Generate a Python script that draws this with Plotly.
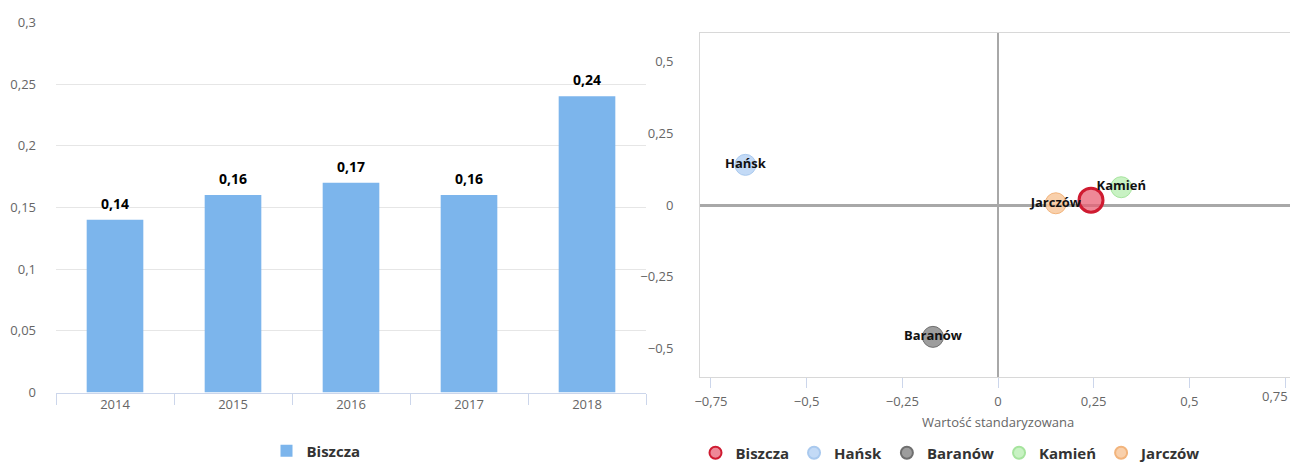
import plotly.graph_objects as go

# ---- data: left bar chart ----
years = ["2014", "2015", "2016", "2017", "2018"]
values = [0.14, 0.16, 0.17, 0.16, 0.24]
bar_series = "Biszcza"
bar_yticks = [0, 0.05, 0.1, 0.15, 0.2, 0.25, 0.3]
bar_yticktext = ["0", "0,05", "0,1", "0,15", "0,2", "0,25", "0,3"]

# ---- data: right bubble chart ----
names = ["Biszcza", "Hańsk", "Baranów", "Kamień", "Jarczów"]
xs = [0.243, -0.66, -0.17, 0.322, 0.151]
ys = [0.017, 0.14, -0.46, 0.062, 0.006]
point_labels = ["", "Hańsk", "Baranów", "Kamień", "Jarczów"]
fills = ["rgba(232,96,116,0.75)", "rgba(184,212,244,0.85)", "rgba(140,140,140,0.85)",
         "rgba(190,240,184,0.85)", "rgba(248,200,156,0.85)"]
borders = ["#cf1b31", "#a9c9ee", "#6f6f6f", "#a6e49e", "#f2b47c"]
sizes = [24, 21, 21, 21, 21]
line_w = [3, 1, 1, 1, 1]
sc_ticks = [-0.75, -0.5, -0.25, 0, 0.25, 0.5, 0.75]
sc_xticktext = ["−0,75", "−0,5", "−0,25", "0", "0,25", "0,5", "0,75"]
sc_yticks = [-0.5, -0.25, 0, 0.25, 0.5]
sc_yticktext = ["−0,5", "−0,25", "0", "0,25", "0,5"]
x_title = "Wartość standaryzowana"

FONT = "Open Sans"
O = 8  # page body margin offset
W, H = 1298 - 2 * O, 470 - 2 * O


def px_x(p):
    return (p - O) / W


def px_y(p):
    return (H - (p - O)) / H


# right chart: keep the reference scale (0 at 998 px, 382.7 px per unit)
X0, XS = 998.0, 382.7
x2_left, x2_right = 700.0, O + W - 0.5
x2_range = [(x2_left - X0) / XS, (x2_right - X0) / XS]

fig = go.Figure()

fig.add_trace(go.Bar(
    x=years, y=values, name=bar_series, marker_color="#7cb5ec",
    marker_line_width=0, xaxis="x", yaxis="y", legend="legend",
    hoverinfo="skip",
))

for i, v in enumerate(values):
    fig.add_annotation(
        x=i, y=v, xref="x", yref="y", text="<b>" + f"{v:.2f}".replace(".", ",") + "</b>",
        showarrow=False, yanchor="bottom", yshift=5,
        font=dict(family=FONT, size=14, color="#000000"),
    )

for i, n in enumerate(names):
    fig.add_trace(go.Scatter(
        x=[xs[i]], y=[ys[i]], name=n, mode="markers",
        marker=dict(size=sizes[i], color=fills[i], line=dict(color=borders[i], width=line_w[i])),
        xaxis="x2", yaxis="y2", legend="legend2", hoverinfo="skip",
    ))

fig.add_trace(go.Scatter(
    x=xs, y=ys, text=["<b>" + t + "</b>" if t else "" for t in point_labels],
    mode="text", textposition="middle center",
    textfont=dict(family=FONT, size=13, color="#111111"),
    xaxis="x2", yaxis="y2", showlegend=False, hoverinfo="skip",
))

fig.add_annotation(
    x=0, xref="x2", y=px_y(421.5), yref="paper", text=x_title, showarrow=False,
    yanchor="middle", font=dict(family=FONT, size=13, color="#666666"),
)

# last x tick label sits at the page edge: right-align it so it stays whole
fig.add_annotation(
    x=1.0, xref="paper", xanchor="right", y=px_y(396), yref="paper", yanchor="middle",
    text=sc_xticktext[-1], showarrow=False, font=dict(family=FONT, size=13, color="#666666"),
)

fig.update_layout(
    width=W, height=H,
    margin=dict(l=0, r=0, t=0, b=0, autoexpand=False),
    paper_bgcolor="white", plot_bgcolor="white",
    font=dict(family=FONT, size=13, color="#666666"),
    bargap=0.52,
    showlegend=True,
    xaxis=dict(
        domain=[px_x(56), px_x(646)], type="category", range=[-0.5, 4.5],
        showline=True, linecolor="#ccd6eb",
        ticks="outside", tickson="boundaries", ticklen=11, tickcolor="#ccd6eb",
        showgrid=False, tickfont=dict(size=13, color="#666666"), automargin=False,
        fixedrange=True,
    ),
    yaxis=dict(
        domain=[px_y(392.5), px_y(21.7)], range=[0, 0.3005],
        tickvals=bar_yticks, ticktext=bar_yticktext, showgrid=True, gridcolor="#e6e6e6",
        zeroline=False, showline=False, ticks="", ticklabelstandoff=19,
        tickfont=dict(size=13, color="#666666"), automargin=False, fixedrange=True,
    ),
    xaxis2=dict(
        domain=[px_x(x2_left), px_x(x2_right)], range=x2_range, anchor="y2",
        tickvals=sc_ticks, ticktext=sc_xticktext[:-1] + [""], showgrid=False,
        showline=True, mirror=True, linecolor="#d8d8d8", linewidth=1,
        ticks="outside", ticklen=10, tickcolor="#ccd6eb", ticklabelstandoff=2,
        zeroline=True, zerolinecolor="#a8a8a8", zerolinewidth=2,
        tickfont=dict(size=13, color="#666666"), automargin=False, fixedrange=True,
    ),
    yaxis2=dict(
        domain=[px_y(377), px_y(33)], range=[-0.6, 0.6], anchor="x2",
        tickvals=sc_yticks, ticktext=sc_yticktext, showgrid=False,
        showline=True, mirror=True, linecolor="#d8d8d8", linewidth=1,
        ticks="", ticklabelstandoff=23,
        zeroline=True, zerolinecolor="#a8a8a8", zerolinewidth=2.5,
        tickfont=dict(size=13, color="#666666"), automargin=False, fixedrange=True,
    ),
    legend=dict(
        orientation="h", x=px_x(316), xanchor="center", y=px_y(451), yanchor="middle",
        font=dict(family=FONT, size=15, color="#333333", weight="bold"),
        bgcolor="rgba(0,0,0,0)",
    ),
    legend2=dict(
        orientation="h", x=px_x(951), xanchor="center", y=px_y(453), yanchor="middle",
        font=dict(family=FONT, size=15, color="#333333", weight="bold"),
        itemsizing="constant", bgcolor="rgba(0,0,0,0)",
    ),
)

fig.write_html("out.html")
